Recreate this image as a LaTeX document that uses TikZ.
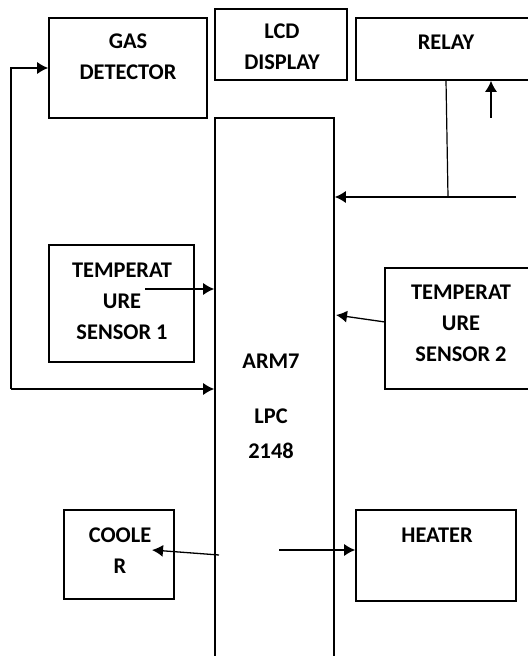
\documentclass[tikz,border=0pt]{standalone}
\usepackage{fontspec}
\setmainfont{Carlito}
\usetikzlibrary{arrows.meta}

\tikzset{
	block/.style={draw, line width=0.8pt, rectangle, inner sep=0pt},
	lbl/.style={font=\fontsize{11.2}{15.5}\selectfont\bfseries, align=center, inner sep=0pt},
	conn/.style={line width=0.65pt, -{Latex[length=5.5pt,width=6pt]}}
}

\begin{document}
\begin{tikzpicture}[x=0.5pt, y=-0.5pt]
		
		\useasboundingbox (0,0) rectangle (528,656);
		
		% Blocks
		\node [block, minimum width=79pt, minimum height=50pt] (gas) at (128,68){};
		\node [block, minimum width=66pt, minimum height=35.5pt] (lcd) at (281,44.5){};
		\node [block, minimum width=90pt, minimum height=31pt] (relay) at (446,49){};
		\node [block, minimum width=59.5pt, minimum height=291pt] (arm) at (274.5,409){};
		\node [block, minimum width=72.5pt, minimum height=58.5pt] (temp1) at (121.5,303.5){};
		\node [block, minimum width=76pt, minimum height=60.5pt] (temp2) at (461,328.5){};
		\node [block, minimum width=55pt, minimum height=44.5pt] (cooler) at (119,554.5){};
		\node [block, minimum width=80pt, minimum height=45.5pt] (heater) at (436,555.5){};
		
		% Texts
		\node [lbl] (gastxt) at (128,56.5) {GAS\\DETECTOR};
		\node [lbl] (lcdtxt) at (282,47) {LCD\\DISPLAY};
		\node [lbl] (relaytxt) at (446,42) {RELAY};
		\node [lbl] (armtxt) at (271,406) {ARM7\\[12pt]LPC\\[2pt]2148};
		\node [lbl] (temp1txt) at (122,301) {TEMPERAT\\URE\\SENSOR 1};
		\node [lbl] (temp2txt) at (461,323) {TEMPERAT\\URE\\SENSOR 2};
		\node [lbl] (coolertxt) at (120,551) {COOLE\\R};
		\node [lbl] (heatertxt) at (437,535) {HEATER};
		
		% Relay lines
		\coordinate (relayjoin) at (448,197);
		\coordinate (relayend) at (516,197);
		\coordinate (relayin) at (491,118);
		
		\draw [line width=0.6pt] (relay.south -| 446,0) -- (relayjoin);
		\draw [conn] (relayend) -- (relayend -| arm.east);
		\draw [conn] (relayin) -- (relayin |- relay.south);
		
		% Loop on the left
		\coordinate (loopbot) at (11,389);
		
		\draw [conn] (loopbot) |- (gas.west);
		\draw [conn] (loopbot) -- (loopbot -| arm.west);
		
		% Sensors
		\coordinate (t1out) at (145,289);
		\coordinate (t2out) at (385,322);
		\coordinate (t2in) at (336,315);
		
		\draw [conn] (t1out) -- (t1out -| arm.west);
		\draw [conn] (t2out) -- (t2in);
		
		% Cooler and heater
		\coordinate (coolfrom) at (219,555);
		\coordinate (coolto) at (152,550);
		\coordinate (heatfrom) at (279,550);
		
		\draw [conn] (coolfrom) -- (coolto);
		\draw [conn] (heatfrom) -- (heatfrom -| heater.west);
		
	\end{tikzpicture}
\end{document}
